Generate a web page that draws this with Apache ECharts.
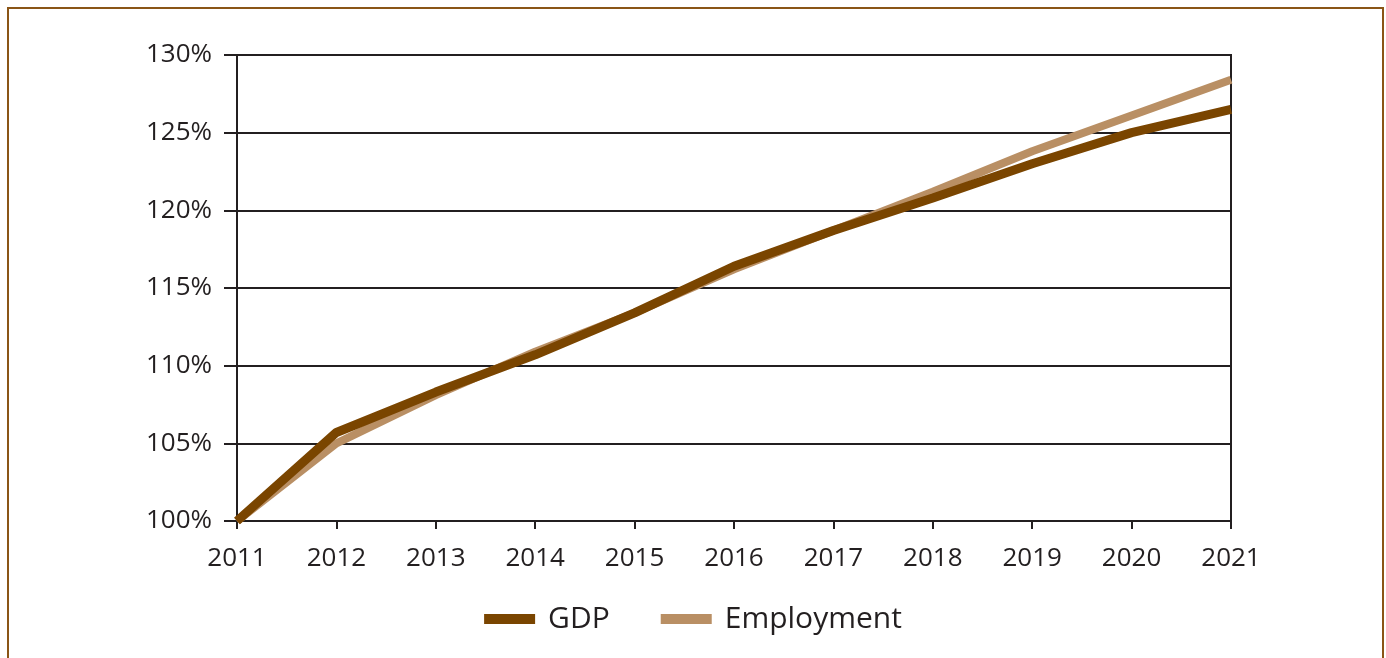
<!DOCTYPE html>
<html>
<head>
<meta charset="utf-8">
<script src="https://cdn.jsdelivr.net/npm/echarts@6/dist/echarts.min.js"></script>
<style>
html,body{margin:0;padding:0;background:#fff;}
#c{width:1386px;height:658px;}
</style>
</head>
<body>
<div id="c"></div>
<script>
const years = ['2011','2012','2013','2014','2015','2016','2017','2018','2019','2020','2021'];
const gdp = [100, 105.7, 108.3, 110.7, 113.4, 116.4, 118.7, 120.8, 123.0, 125.0, 126.5];
const employment = [100, 105.0, 108.1, 110.9, 113.4, 116.2, 118.7, 121.2, 123.8, 126.1, 128.4];
const yTicks = {min: 100, max: 130, step: 5};

const font = '"Open Sans", "Noto Sans", sans-serif';
const ink = '#231f20';
const chart = echarts.init(document.getElementById('c'), null, {renderer: 'canvas'});
chart.setOption({
  animation: false,
  backgroundColor: '#fff',
  graphic: [{
    type: 'rect',
    shape: {x: 8, y: 8, width: 1375, height: 700},
    style: {fill: 'none', stroke: '#8a5516', lineWidth: 2},
    silent: true
  }],
  grid: {left: 237, right: 155, top: 55, bottom: 137, show: true, borderColor: ink, borderWidth: 2, backgroundColor: 'transparent'},
  legend: {
    data: ['GDP', 'Employment'],
    bottom: 19,
    left: 'center',
    icon: 'rect',
    itemWidth: 51,
    itemHeight: 10,
    itemGap: 51,
    textStyle: {fontFamily: font, fontSize: 30, color: ink, padding: [0, 0, 0, 8]}
  },
  xAxis: {
    type: 'category',
    data: years,
    boundaryGap: false,
    axisLine: {lineStyle: {color: ink, width: 2}},
    axisTick: {show: true, length: 8, lineStyle: {color: ink, width: 2}},
    axisLabel: {fontFamily: font, fontSize: 26, color: ink, margin: 25, showMaxLabel: true, showMinLabel: true, interval: 0},
    splitLine: {show: false}
  },
  yAxis: {
    type: 'value',
    min: yTicks.min,
    max: yTicks.max,
    interval: yTicks.step,
    axisLine: {show: true, lineStyle: {color: ink, width: 2}},
    axisTick: {show: true, length: 13, lineStyle: {color: ink, width: 2}},
    axisLabel: {fontFamily: font, fontSize: 26, color: ink, margin: 25, padding: [5, 0, 0, 0], formatter: '{value}%'},
    splitLine: {show: true, lineStyle: {color: ink, width: 2}}
  },
  series: [
    {name: 'Employment', type: 'line', data: employment, showSymbol: false, symbol: 'none',
     lineStyle: {color: '#b98f64', width: 8}, itemStyle: {color: '#b98f64'}, z: 2},
    {name: 'GDP', type: 'line', data: gdp, showSymbol: false, symbol: 'none',
     lineStyle: {color: '#7a4500', width: 9}, itemStyle: {color: '#7a4500'}, z: 3}
  ]
});
</script>
</body>
</html>
